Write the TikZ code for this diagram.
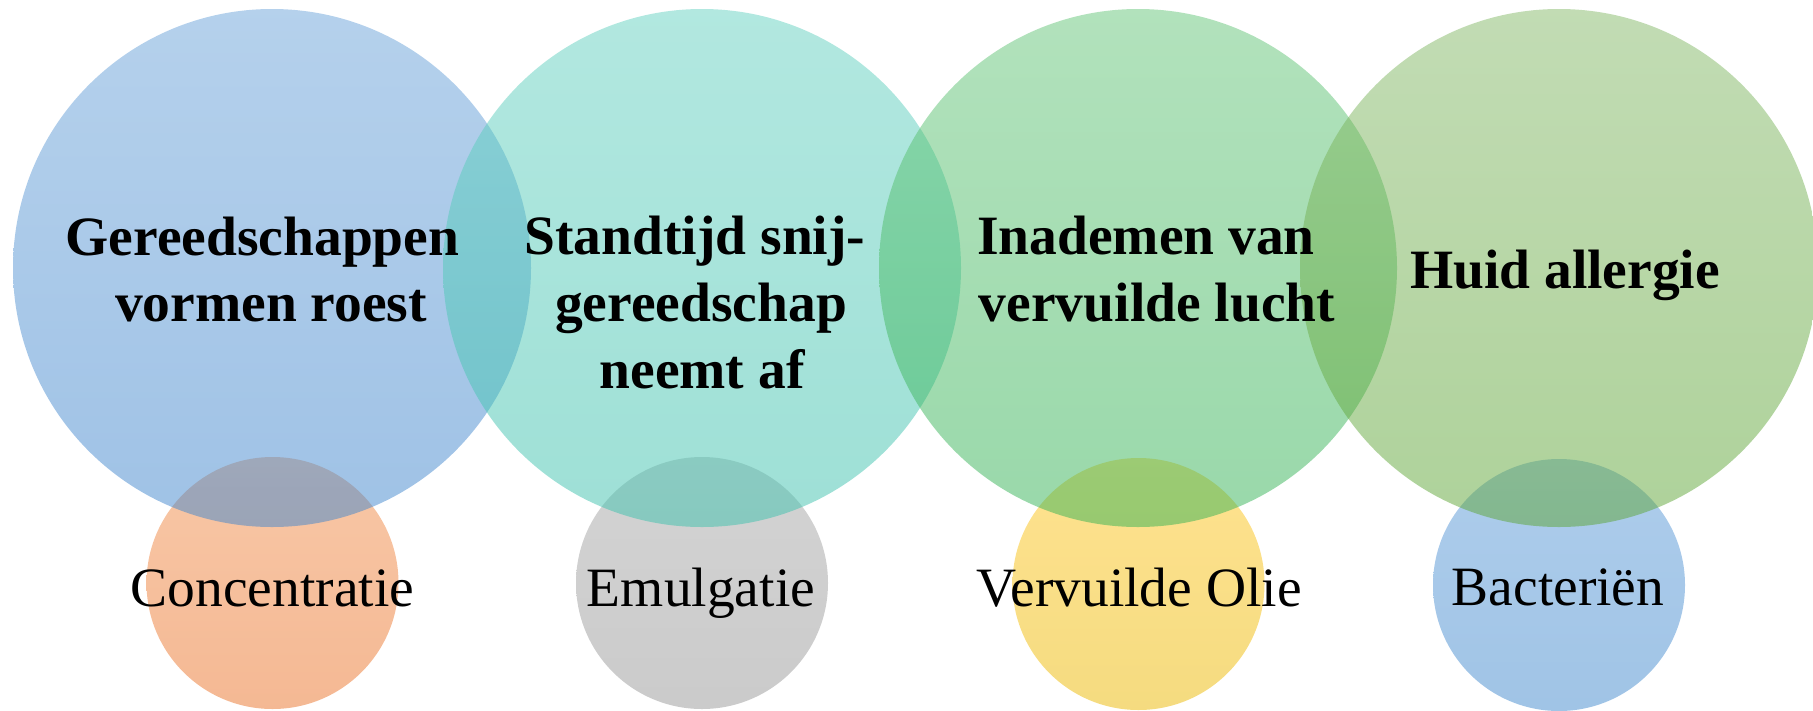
\documentclass[tikz,border=0pt]{standalone}
\usepackage{fontspec}
\setmainfont{Liberation Serif}
\definecolor{bAtop}{HTML}{6BA3D9}\definecolor{bAbot}{HTML}{3F85CD}
\definecolor{bBtop}{HTML}{65D1C1}\definecolor{bBbot}{HTML}{3DC1AD}
\definecolor{bCtop}{HTML}{65C579}\definecolor{bCbot}{HTML}{33B255}
\definecolor{bDtop}{HTML}{85B969}\definecolor{bDbot}{HTML}{5DA535}
\definecolor{sAtop}{HTML}{F2904E}\definecolor{sAbot}{HTML}{EA7228}
\definecolor{sBtop}{HTML}{A8A8A8}\definecolor{sBbot}{HTML}{979797}
\definecolor{sCtop}{HTML}{FFC620}\definecolor{sCbot}{HTML}{EBB800}
\definecolor{sDtop}{HTML}{5D9BD9}\definecolor{sDbot}{HTML}{4189CD}
\tikzset{
  bigcirc/.style={fill opacity=0.5},
  boldtxt/.style={font=\fontsize{55.5}{66.6}\selectfont\bfseries, inner sep=0pt, anchor=base, text=black},
  plaintxt/.style={font=\fontsize{55.5}{66.6}\selectfont, inner sep=0pt, anchor=base, text=black}
}
\begin{document}
\begin{tikzpicture}[x=1pt,y=-1pt]
\useasboundingbox (0,0) rectangle (1813,710);
% small circles (below)
\shade[bigcirc, top color=sAtop, bottom color=sAbot] (272.5,583) circle[radius=126pt];
\shade[bigcirc, top color=sBtop, bottom color=sBbot] (702,583) circle[radius=126pt];
\shade[bigcirc, top color=sCtop, bottom color=sCbot] (1138.5,584) circle[radius=126pt];
\shade[bigcirc, top color=sDtop, bottom color=sDbot] (1559,585) circle[radius=126pt];
% big circles
\shade[bigcirc, top color=bAtop, bottom color=bAbot] (272,268) circle[radius=259pt];
\shade[bigcirc, top color=bBtop, bottom color=bBbot] (702,268) circle[radius=259pt];
\shade[bigcirc, top color=bCtop, bottom color=bCbot] (1138,268) circle[radius=259pt];
\shade[bigcirc, top color=bDtop, bottom color=bDbot] (1559,268) circle[radius=259pt];
% texts
\node[boldtxt] (t1a) at (262.5,255) {Gereedschappen};
\node[boldtxt] (t1b) at (271,321.5) {vormen roest};
\node[boldtxt] (t2a) at (695,254) {Standtijd snij-};
\node[boldtxt] (t2b) at (701,321) {gereedschap};
\node[boldtxt] (t2c) at (702,388) {neemt af};
\node[boldtxt] (t3a) at (1146,254) {Inademen van};
\node[boldtxt] (t3b) at (1157,321) {vervuilde lucht};
\node[boldtxt] (t4a) at (1565,288) {Huid allergie};
\node[plaintxt] (s1) at (272.5,606) {Concentratie};
\node[plaintxt] (s2) at (701,606) {Emulgatie};
\node[plaintxt] (s3) at (1139,606) {Vervuilde Olie};
\node[plaintxt] (s4) at (1558,605) {Bacteriën};
\end{tikzpicture}
\end{document}
